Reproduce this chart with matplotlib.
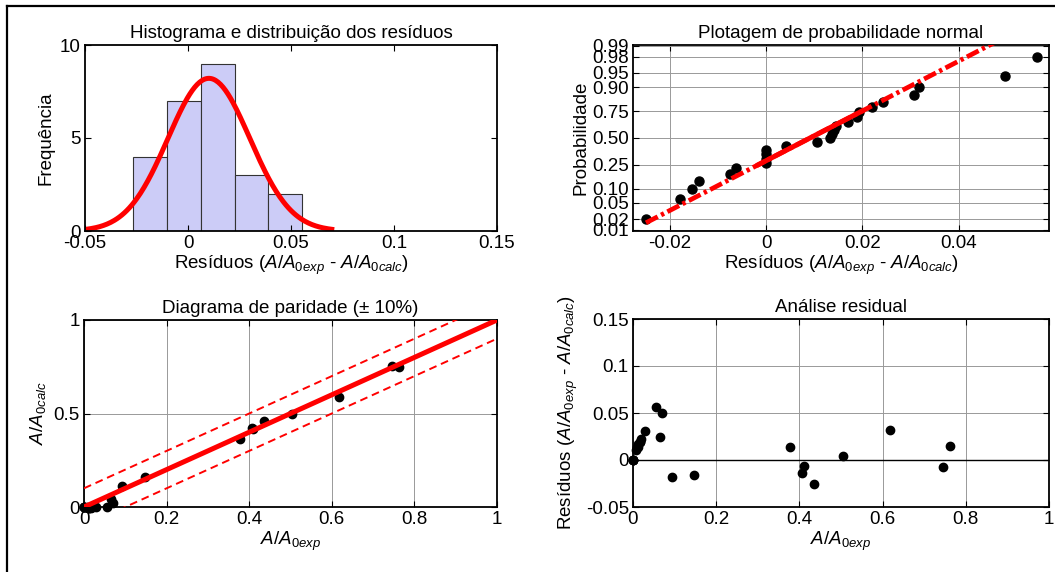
import numpy as np
import matplotlib
matplotlib.use("Agg")
import matplotlib.pyplot as plt
from matplotlib.lines import Line2D
from statistics import NormalDist

plt.rcParams['font.family'] = ['Liberation Sans', 'DejaVu Sans']
plt.rcParams['mathtext.fontset'] = 'custom'
plt.rcParams['mathtext.it'] = 'Liberation Sans:italic'
plt.rcParams['mathtext.rm'] = 'Liberation Sans'
plt.rcParams['font.size'] = 13.5

a_exp = [0.0, 0.0, 0.0, 0.0, 0.008, 0.010, 0.011, 0.378, 0.763, 0.013,
         0.016, 0.018, 0.020, 0.065, 0.030, 0.618, 0.070, 0.055, 0.093,
         0.147, 0.406, 0.436, 0.745, 0.410, 0.504]
resid = [0.0, 0.0, 0.0, 0.0, 0.0105, 0.0133, 0.0137, 0.0140, 0.0145, 0.0170,
         0.0188, 0.0192, 0.0220, 0.0242, 0.0307, 0.0317, 0.0497, 0.0564, -0.0180,
         -0.0155, -0.0140, -0.0250, -0.0075, -0.0063, 0.0042]

# histogram
hist_edges = [-0.0265, -0.0102, 0.0062, 0.0226, 0.0389, 0.0553]
hist_counts = [4, 7, 9, 3, 2]

prob_ticks = [0.01, 0.02, 0.05, 0.10, 0.25, 0.50, 0.75, 0.90, 0.95, 0.98, 0.99]

a_exp = np.array(a_exp)
resid = np.array(resid)
a_calc = a_exp - resid
n = len(resid)
nd = NormalDist()

fig = plt.figure(figsize=(10.55, 5.72), dpi=100)

ax1 = fig.add_axes([85/1055, 1-231/572, 412/1055, 186/572])
ax2 = fig.add_axes([633/1055, 1-231/572, 416/1055, 186/572])
ax3 = fig.add_axes([84/1055, 1-507/572, 413/1055, 187/572])
ax4 = fig.add_axes([633/1055, 1-507/572, 416/1055, 188/572])

def style(ax):
    ax.tick_params(direction='in', top=True, right=True, length=4, width=0.8, pad=3)
    for s in ax.spines.values():
        s.set_linewidth(1.3)

lbl_res = r'Resíduos ($\mathit{A/A_{0exp}}$ - $\mathit{A/A_{0calc}}$)'

# --- histogram + normal fit
widths = np.diff(hist_edges)
ax1.bar(hist_edges[:-1], hist_counts, width=widths, align='edge',
        color='#ccccf7', edgecolor='#333333', linewidth=0.8)
mu = resid.mean()
sd = resid.std(ddof=1)
xs = np.linspace(mu - 3*sd, mu + 3*sd, 200)
bw = widths.mean()
ys = n * bw / (sd*np.sqrt(2*np.pi)) * np.exp(-0.5*((xs-mu)/sd)**2)
ax1.plot(xs, ys, color='red', lw=3.6)
ax1.set_xlim(-0.05, 0.15)
ax1.set_ylim(0, 10)
ax1.set_xticks([-0.05, 0, 0.05, 0.1, 0.15])
ax1.set_xticklabels(['-0.05', '0', '0.05', '0.1', '0.15'])
ax1.set_yticks([0, 5, 10])
ax1.set_title('Histograma e distribuição dos resíduos', fontsize=13.5, pad=5)
ax1.set_xlabel(lbl_res, labelpad=1)
ax1.set_ylabel('Frequência')
style(ax1)

# --- normal probability plot
rs = np.sort(resid)
zq = np.array([nd.inv_cdf((i - 0.5)/n) for i in range(1, n+1)])
ax2.grid(True, color='0.6', lw=0.7)
ax2.set_axisbelow(True)
ax2.plot(rs, zq, 'o', color='black', ms=6.5, zorder=3)
q1, q3 = np.percentile(resid, [25, 75], method='hazen')
slope = (nd.inv_cdf(0.75) - nd.inv_cdf(0.25)) / (q3 - q1)
xl = np.array([rs[0], rs[-1]])
ax2.plot(xl, nd.inv_cdf(0.25) + slope*(xl - q1), color='red', lw=3.4,
         linestyle=(0, (2.8, 0.8, 0.7, 0.8)), dash_capstyle='butt', zorder=4)
xm = np.array([q1, q3])
ax2.plot(xm, nd.inv_cdf(0.25) + slope*(xm - q1), color='red', lw=3.6, zorder=5)
ax2.set_xlim(-0.0277, 0.0588)
ax2.set_ylim(nd.inv_cdf(0.0093), nd.inv_cdf(0.9905))
ax2.set_xticks([-0.02, 0, 0.02, 0.04])
ax2.set_xticklabels(['-0.02', '0', '0.02', '0.04'])
ax2.set_yticks([nd.inv_cdf(p) for p in prob_ticks])
ax2.set_yticklabels(['%.2f' % p for p in prob_ticks])
ax2.set_title('Plotagem de probabilidade normal', fontsize=13.5, pad=5)
ax2.set_xlabel(lbl_res, labelpad=1)
ax2.set_ylabel('Probabilidade', labelpad=2)
style(ax2)

# --- parity diagram
ax3.grid(True, color='0.6', lw=0.7)
ax3.set_axisbelow(True)
ax3.plot(a_exp, a_calc, 'o', color='black', ms=6, clip_on=False, zorder=3)
line = np.array([0, 1])
ax3.plot(line, line, color='red', lw=3.6, zorder=5)
ax3.plot(line, line + 0.1, color='red', lw=1.4, linestyle=(0, (4, 2.5)), zorder=4)
ax3.plot(line, line - 0.1, color='red', lw=1.4, linestyle=(0, (4, 2.5)), zorder=4)
ax3.set_xlim(0, 1)
ax3.set_ylim(0, 1)
ax3.set_xticks([0, 0.2, 0.4, 0.6, 0.8, 1])
ax3.set_xticklabels(['0', '0.2', '0.4', '0.6', '0.8', '1'])
ax3.set_yticks([0, 0.5, 1])
ax3.set_yticklabels(['0', '0.5', '1'])
ax3.set_title('Diagrama de paridade (± 10%)', fontsize=13.5, pad=5)
ax3.set_xlabel(r'$\mathit{A/A_{0exp}}$', labelpad=1)
ax3.set_ylabel(r'$\mathit{A/A_{0calc}}$')
style(ax3)

# --- residual analysis
ax4.grid(True, color='0.6', lw=0.7)
ax4.set_axisbelow(True)
ax4.axhline(0, color='black', lw=1.0)
ax4.plot(a_exp, resid, 'o', color='black', ms=6, clip_on=False, zorder=3)
ax4.set_xlim(0, 1)
ax4.set_ylim(-0.05, 0.15)
ax4.set_xticks([0, 0.2, 0.4, 0.6, 0.8, 1])
ax4.set_xticklabels(['0', '0.2', '0.4', '0.6', '0.8', '1'])
ax4.set_yticks([-0.05, 0, 0.05, 0.1, 0.15])
ax4.set_yticklabels(['-0.05', '0', '0.05', '0.1', '0.15'])
ax4.set_title('Análise residual', fontsize=13.5, pad=5)
ax4.set_xlabel(r'$\mathit{A/A_{0exp}}$', labelpad=1)
ax4.set_ylabel(lbl_res)
style(ax4)

# frame border
fig.add_artist(Line2D([7/1055, 7/1055], [0, 1-6/572], color='black', lw=1.6))
fig.add_artist(Line2D([7/1055, 1], [1-6/572, 1-6/572], color='black', lw=1.6))

fig.savefig('out.png', dpi=100)
